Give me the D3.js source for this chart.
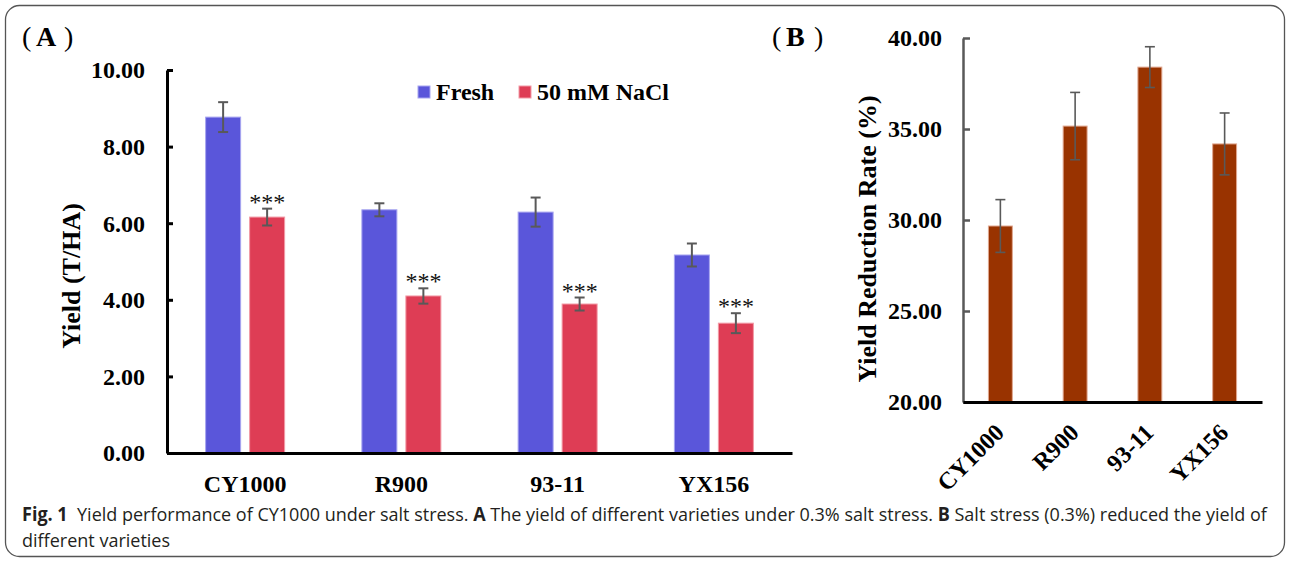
<!DOCTYPE html>
<html>
<head>
<meta charset="utf-8">
<script src="https://cdn.jsdelivr.net/npm/d3@7"></script>
<style>
  html, body { margin: 0; padding: 0; background: #fff; }
  svg { display: block; }
</style>
</head>
<body>
<svg id="chart" width="1290" height="562"></svg>
<script>
// ---------- data ----------
const categories = ["CY1000", "R900", "93-11", "YX156"];
const seriesNames = ["Fresh", "50 mM NaCl"];
const freshYield = [8.77, 6.35, 6.29, 5.17];
const freshErr   = [0.39, 0.17, 0.38, 0.30];
const saltYield  = [6.16, 4.10, 3.89, 3.39];
const saltErr    = [0.22, 0.20, 0.17, 0.26];
const saltSignif = ["***", "***", "***", "***"];
const reductionRate = [29.67, 35.16, 38.40, 34.18];
const reductionErr  = [1.45, 1.85, 1.12, 1.70];
const yTicksA = [0, 2, 4, 6, 8, 10];
const yTicksB = [20, 25, 30, 35, 40];

// ---------- setup ----------
const svg = d3.select("#chart");
const serif = "'Liberation Serif', 'Times New Roman', serif";
const sans = "'Open Sans', 'Noto Sans', sans-serif";
const colFresh = "#5a56da", colFreshEdge = "#a7a5f0";
const colSalt = "#de3d55", colSaltEdge = "#f29aa6";
const colBrown = "#993300", colBrownEdge = "#e0a78f";
const errCol = "#595959";

// frame
svg.append("rect").attr("x", 5.5).attr("y", 5.5).attr("width", 1279).attr("height", 551)
  .attr("rx", 14).attr("fill", "none").attr("stroke", "#555").attr("stroke-width", 1.3);

// ---------- Panel A ----------
const xA = d3.scaleBand().domain(categories).range([167, 792]);
const xA1 = d3.scaleBand().domain(seriesNames).range([0, 79]).paddingInner(9 / 44);
const yA = d3.scaleLinear().domain([0, 10]).range([453, 70]);

const gA = svg.append("g");
const rowsA = categories.map((c, i) => [
  { cat: c, s: seriesNames[0], v: freshYield[i], e: freshErr[i], fill: colFresh, edge: colFreshEdge, sig: null },
  { cat: c, s: seriesNames[1], v: saltYield[i], e: saltErr[i], fill: colSalt, edge: colSaltEdge, sig: saltSignif[i] }
]).flat();

const bx = d => xA(d.cat) + xA.bandwidth() / 2 - 39.5 + xA1(d.s);
gA.selectAll("rect.bar").data(rowsA).join("rect").attr("class", "bar")
  .attr("x", d => bx(d)).attr("width", xA1.bandwidth())
  .attr("y", d => yA(d.v)).attr("height", d => yA(0) - yA(d.v))
  .attr("fill", d => d.fill).attr("stroke", d => d.edge).attr("stroke-width", 1);

// error bars A
const ebA = gA.selectAll("g.eb").data(rowsA).join("g").attr("class", "eb")
  .attr("stroke", errCol).attr("stroke-width", 2);
ebA.append("line").attr("x1", d => bx(d) + xA1.bandwidth() / 2).attr("x2", d => bx(d) + xA1.bandwidth() / 2)
  .attr("y1", d => yA(d.v + d.e)).attr("y2", d => yA(d.v - d.e));
ebA.append("line").attr("x1", d => bx(d) + xA1.bandwidth() / 2 - 5).attr("x2", d => bx(d) + xA1.bandwidth() / 2 + 5)
  .attr("y1", d => yA(d.v + d.e)).attr("y2", d => yA(d.v + d.e));
ebA.append("line").attr("x1", d => bx(d) + xA1.bandwidth() / 2 - 5).attr("x2", d => bx(d) + xA1.bandwidth() / 2 + 5)
  .attr("y1", d => yA(d.v - d.e)).attr("y2", d => yA(d.v - d.e));

// significance stars
gA.selectAll("text.sig").data(rowsA.filter(d => d.sig)).join("text").attr("class", "sig")
  .attr("x", d => bx(d) + xA1.bandwidth() / 2).attr("y", d => yA(d.v + d.e) + 1)
  .attr("text-anchor", "middle").attr("font-family", serif).attr("font-size", 24)
  .attr("fill", "#111").text(d => d.sig);

// axes A
const axYA = gA.append("g").attr("transform", "translate(167,0)")
  .call(d3.axisLeft(yA).tickValues(yTicksA).tickFormat(d3.format(".2f"))
    .tickSizeInner(-6).tickSizeOuter(0).tickPadding(22));
axYA.select(".domain").attr("stroke", "#000").attr("stroke-width", 3);
axYA.selectAll(".tick line").attr("stroke", "#000").attr("stroke-width", 3);
axYA.selectAll(".tick text").attr("font-family", serif).attr("font-weight", "bold")
  .attr("font-size", 24).attr("fill", "#000").attr("dy", "0.33em");

const axXA = gA.append("g").attr("transform", "translate(0,453)")
  .call(d3.axisBottom(xA).tickSize(0).tickPadding(22));
axXA.select(".domain").attr("stroke", "#000").attr("stroke-width", 3);
axXA.selectAll(".tick text").attr("font-family", serif).attr("font-weight", "bold")
  .attr("font-size", 24).attr("fill", "#000");

// y label A
gA.append("text").attr("transform", "translate(80,276) rotate(-90)")
  .attr("text-anchor", "middle").attr("font-family", serif).attr("font-weight", "bold")
  .attr("font-size", 26).attr("fill", "#000").text("Yield (T/HA)");

// legend A
const legX = [418, 519];
const legA = gA.selectAll("g.leg").data(seriesNames).join("g").attr("class", "leg")
  .attr("transform", (d, i) => `translate(${legX[i]},86)`);
legA.append("rect").attr("width", 12).attr("height", 12)
  .attr("fill", (d, i) => i === 0 ? colFresh : colSalt)
  .attr("stroke", (d, i) => i === 0 ? colFreshEdge : colSaltEdge).attr("stroke-width", 1);
legA.append("text").attr("x", 18).attr("y", 14).attr("font-family", serif)
  .attr("font-weight", "bold").attr("font-size", 24).attr("fill", "#000").text(d => d);

// panel labels
function panelLabel(x, letter) {
  const t = svg.append("g");
  t.append("text").attr("x", x).attr("y", 46).attr("font-family", serif).attr("font-size", 28).text("(");
  t.append("text").attr("x", x + 14).attr("y", 46).attr("font-family", serif).attr("font-weight", "bold")
    .attr("font-size", 28).text(letter);
  t.append("text").attr("x", x + 42).attr("y", 46).attr("font-family", serif).attr("font-size", 28).text(")");
}
panelLabel(22, "A");

// ---------- Panel B ----------
const xB = d3.scaleBand().domain(categories).range([963, 1262]).paddingInner(0.68).paddingOuter(0.34);
const yB = d3.scaleLinear().domain([20, 40]).range([402, 38]);
const gB = svg.append("g");
const rowsB = categories.map((c, i) => ({ cat: c, v: reductionRate[i], e: reductionErr[i] }));

gB.selectAll("rect.bar").data(rowsB).join("rect").attr("class", "bar")
  .attr("x", d => xB(d.cat)).attr("width", xB.bandwidth())
  .attr("y", d => yB(d.v)).attr("height", d => yB(20) - yB(d.v))
  .attr("fill", colBrown).attr("stroke", colBrownEdge).attr("stroke-width", 1);

const ebB = gB.selectAll("g.eb").data(rowsB).join("g").attr("class", "eb")
  .attr("stroke", errCol).attr("stroke-width", 1.6);
const cB = d => xB(d.cat) + xB.bandwidth() / 2;
ebB.append("line").attr("x1", cB).attr("x2", cB)
  .attr("y1", d => yB(d.v + d.e)).attr("y2", d => yB(d.v - d.e));
ebB.append("line").attr("x1", d => cB(d) - 5).attr("x2", d => cB(d) + 5)
  .attr("y1", d => yB(d.v + d.e)).attr("y2", d => yB(d.v + d.e));
ebB.append("line").attr("x1", d => cB(d) - 5).attr("x2", d => cB(d) + 5)
  .attr("y1", d => yB(d.v - d.e)).attr("y2", d => yB(d.v - d.e));

const axYB = gB.append("g").attr("transform", "translate(963,0)")
  .call(d3.axisLeft(yB).tickValues(yTicksB).tickFormat(d3.format(".2f"))
    .tickSizeInner(-7).tickSizeOuter(0).tickPadding(21));
axYB.select(".domain").attr("stroke", "#595959").attr("stroke-width", 2.5);
axYB.selectAll(".tick line").attr("stroke", "#595959").attr("stroke-width", 2.5);
axYB.selectAll(".tick text").attr("font-family", serif).attr("font-weight", "bold")
  .attr("font-size", 24).attr("fill", "#000").attr("dy", "0.33em");

const axXB = gB.append("g").attr("transform", "translate(0,402)")
  .call(d3.axisBottom(xB).tickSize(0).tickFormat(""));
axXB.select(".domain").attr("stroke", "#000").attr("stroke-width", 3);
gB.selectAll("text.xlab").data(categories).join("text").attr("class", "xlab")
  .attr("transform", d => `translate(${xB(d) + xB.bandwidth() / 2 + 5},434) rotate(-45)`)
  .attr("text-anchor", "end").attr("font-family", serif).attr("font-weight", "bold")
  .attr("font-size", 24).attr("fill", "#000").text(d => d);

gB.append("text").attr("transform", "translate(876,239) rotate(-90)")
  .attr("text-anchor", "middle").attr("font-family", serif).attr("font-weight", "bold")
  .attr("font-size", 26).attr("fill", "#000").text("Yield Reduction Rate (%)");

panelLabel(772, "B");

// ---------- caption ----------
const cap = svg.append("g");
const line1 = cap.append("text").attr("x", 0).attr("y", 0)
  .attr("font-family", sans).attr("font-size", 19).attr("fill", "#231f20");
const parts = [
  ["Fig. 1", true], ["\u00a0\u00a0Yield performance of CY1000 under salt stress. ", false],
  ["A", true], [" The yield of different varieties under 0.3% salt stress. ", false],
  ["B", true], [" Salt stress (0.3%) reduced the yield of", false]
];
parts.forEach(([t, b]) => line1.append("tspan").attr("font-weight", b ? "bold" : "normal").text(t));
const w1 = line1.node().getComputedTextLength();
const sx = (1268 - 22) / w1;
line1.attr("transform", `translate(22,521) scale(${sx},1)`);
const line2 = cap.append("text").attr("font-family", sans).attr("font-size", 19).attr("fill", "#231f20")
  .text("different varieties");
line2.attr("transform", `translate(22,547) scale(${sx},1)`);
</script>
</body>
</html>
